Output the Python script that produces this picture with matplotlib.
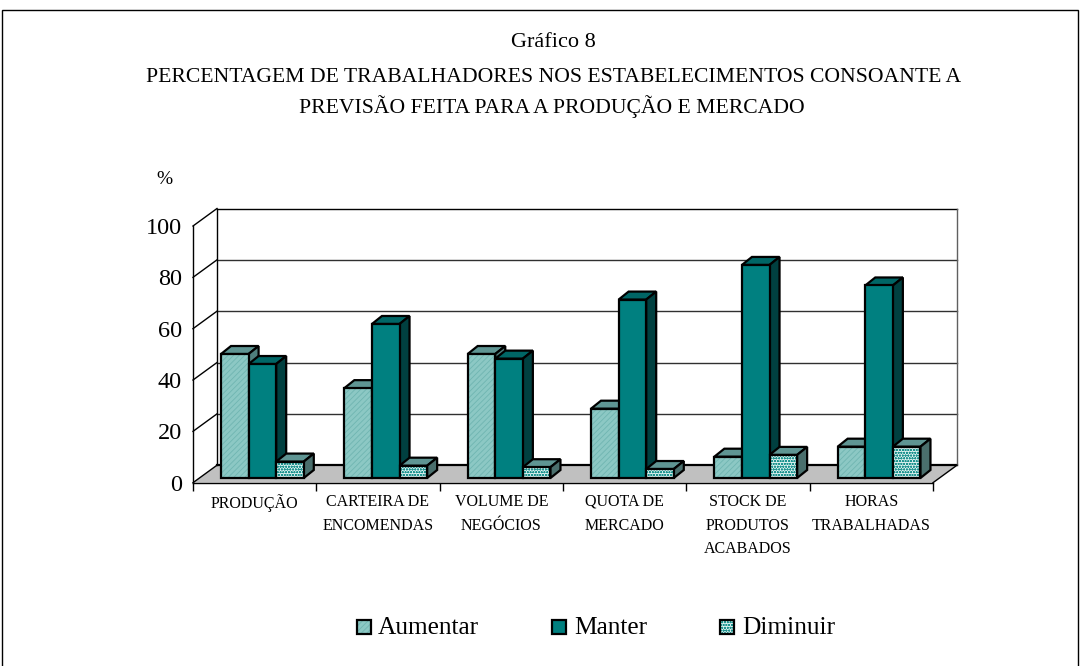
import matplotlib
matplotlib.use('Agg')
import matplotlib.pyplot as plt
from matplotlib.patches import Polygon, Rectangle

plt.rcParams['font.family'] = ['Liberation Serif', 'DejaVu Serif']
plt.rcParams['hatch.linewidth'] = 0.6

categorias = ['PRODUÇÃO', 'CARTEIRA DE\nENCOMENDAS', 'VOLUME DE\nNEGÓCIOS',
              'QUOTA DE\nMERCADO', 'STOCK DE\nPRODUTOS\nACABADOS', 'HORAS\nTRABALHADAS']
aumentar = [48.3, 35.0, 48.3, 27.0, 8.3, 12.2]
manter = [44.4, 60.0, 46.5, 69.5, 83.0, 75.0]
diminuir = [6.4, 4.8, 4.2, 3.5, 9.0, 12.2]
series = ['Aumentar', 'Manter', 'Diminuir']
ticks_y = [0, 20, 40, 60, 80, 100]

LARG, ALT = 1080, 666
X0, X1, Y0, Y100 = 193, 933, 482.7, 226
px_x = (X1 - X0) / 6
px_y = (Y0 - Y100) / 100

# profundidade em unidades dos dados
PAREDE_X, PAREDE_Y = 24 / px_x, 17.5 / px_y
BARRA_X, BARRA_Y = 10 / px_x, 8 / px_y
LARG_BARRA = 27.6 / px_x
INI_X, INI_Y = 28 / px_x, 4.7 / px_y
LW = 1.6

estilos = {
    'Aumentar': dict(fc='#8cc8c4', hatch='//////', hc='#6fb5b1', topo='#5f9593', lado='#4f7f7d'),
    'Manter': dict(fc='#008080', hatch=None, hc=None, topo='#006666', lado='#004040'),
    'Diminuir': dict(fc='#dff2f0', hatch='oooooo', hc='#1f9490', topo='#5f9593', lado='#4a6f6d'),
}


def barra(ax, x, v, nome):
    e = estilos[nome]
    b = INI_Y
    t = b + v
    w = LARG_BARRA
    ax.add_patch(Polygon([(x, t), (x + w, t), (x + w + BARRA_X, t + BARRA_Y), (x + BARRA_X, t + BARRA_Y)],
                         fc=e['topo'], ec='black', lw=LW, clip_on=False, zorder=3))
    ax.add_patch(Polygon([(x + w, b), (x + w + BARRA_X, b + BARRA_Y), (x + w + BARRA_X, t + BARRA_Y), (x + w, t)],
                         fc=e['lado'], ec='black', lw=LW, clip_on=False, zorder=3))
    if e['hatch']:
        ax.add_patch(Rectangle((x, b), w, v, fc=e['fc'], ec=e['hc'], hatch=e['hatch'], lw=0, clip_on=False, zorder=3))
        ax.add_patch(Rectangle((x, b), w, v, fc='none', ec='black', lw=LW, clip_on=False, zorder=3))
    else:
        ax.add_patch(Rectangle((x, b), w, v, fc=e['fc'], ec='black', lw=LW, clip_on=False, zorder=3))


fig = plt.figure(figsize=(LARG / 100, ALT / 100), dpi=100)
fig.add_artist(Rectangle((1.5 / LARG, -0.01), (LARG - 4) / LARG, 1.01 - 10 / ALT, transform=fig.transFigure,
                         fc='white', ec='black', lw=1, zorder=-1))

ax = fig.add_axes([X0 / LARG, 1 - Y0 / ALT, (X1 - X0) / LARG, (Y0 - Y100) / ALT])
ax.patch.set_visible(False)
ax.set_xlim(0, 6)
ax.set_ylim(0, 100)
for s in ['top', 'right']:
    ax.spines[s].set_visible(False)
ax.spines['left'].set_linewidth(1)
ax.spines['bottom'].set_linewidth(1)

ax.set_yticks(ticks_y)
ax.tick_params(axis='y', labelsize=17.5, length=0, pad=8)
ax.set_xticks([i + 0.5 for i in range(6)])
ax.set_xticklabels(categorias, fontsize=11.5, linespacing=1.65, va='top')
ax.tick_params(axis='x', which='major', length=0, pad=8)
ax.set_xticks(range(7), minor=True)
ax.tick_params(axis='x', which='minor', length=6, width=1)

# chao e paredes
ax.add_patch(Polygon([(0, 0), (6, 0), (6 + PAREDE_X, PAREDE_Y), (PAREDE_X, PAREDE_Y)],
                     fc='#c0c0c0', ec='none', clip_on=False, zorder=1))
for v in ticks_y:
    ax.plot([0, PAREDE_X], [v, v + PAREDE_Y], color='black', lw=1, clip_on=False, zorder=2)
    ax.plot([PAREDE_X, 6 + PAREDE_X], [v + PAREDE_Y, v + PAREDE_Y], color='black' if v in (0, 100) else '#303030',
            lw=1.6 if v == 0 else 1, clip_on=False, zorder=2)
ax.plot([PAREDE_X, PAREDE_X], [PAREDE_Y, 100 + PAREDE_Y], color='black', lw=1, clip_on=False, zorder=2)
ax.plot([6 + PAREDE_X, 6 + PAREDE_X], [PAREDE_Y, 100 + PAREDE_Y], color='#606060', lw=1, clip_on=False, zorder=2)
ax.plot([6, 6 + PAREDE_X], [0, PAREDE_Y], color='black', lw=1, clip_on=False, zorder=2)

valores = [aumentar, manter, diminuir]
for i in range(6):
    for j, nome in enumerate(series):
        barra(ax, i + INI_X + j * LARG_BARRA, valores[j][i], nome)

# titulo
fig.text(553 / LARG, 1 - 42.5 / ALT, 'Gráfico 8', ha='center', va='center', fontsize=16)
fig.text(554 / LARG, 1 - 77 / ALT, 'PERCENTAGEM DE TRABALHADORES NOS ESTABELECIMENTOS CONSOANTE A',
         ha='center', va='center', fontsize=15.6)
fig.text(552 / LARG, 1 - 107 / ALT, 'PREVISÃO FEITA PARA A PRODUÇÃO E MERCADO',
         ha='center', va='center', fontsize=15.6)
fig.text(164 / LARG, 1 - 180 / ALT, '%', ha='center', va='center', fontsize=14)

# legenda
pos_legenda = [(364, 378), (559, 574), (727, 742)]
for (xq, xt), nome in zip(pos_legenda, series):
    e = estilos[nome]
    fig.add_artist(Rectangle(((xq - 7) / LARG, 1 - 634 / ALT), 14 / LARG, 14 / ALT, transform=fig.transFigure,
                             fc=e['fc'], ec=e['hc'] if e['hatch'] else 'black', hatch=e['hatch'], lw=0))
    fig.add_artist(Rectangle(((xq - 7) / LARG, 1 - 634 / ALT), 14 / LARG, 14 / ALT, transform=fig.transFigure,
                             fc='none', ec='black', lw=LW))
    fig.text(xt / LARG, 1 - 628 / ALT, nome, ha='left', va='center', fontsize=18.3)

fig.savefig('out.png', dpi=100)
